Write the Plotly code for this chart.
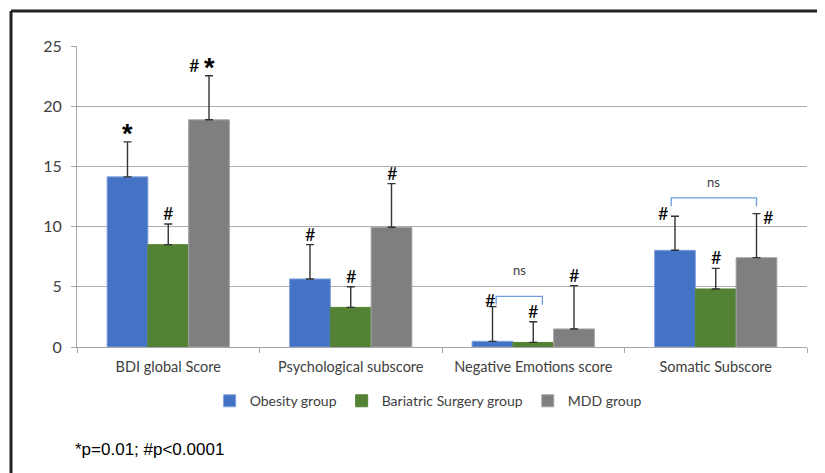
import plotly.graph_objects as go

categories = ["BDI global Score", "Psychological subscore", "Negative Emotions score", "Somatic Subscore"]
series_names = ["Obesity group", "Bariatric Surgery group", "MDD group"]

obesity = [14.13, 5.65, 0.47, 8.03]
obesity_err = [2.91, 2.85, 2.88, 2.83]
bariatric = [8.50, 3.29, 0.38, 4.82]
bariatric_err = [1.72, 1.72, 1.72, 1.71]
mdd = [18.87, 9.94, 1.50, 7.42]
mdd_err = [3.66, 3.63, 3.60, 3.66]

obesity_sig = ["*", "#", "#", "#"]
bariatric_sig = ["#", "#", "#", "#"]
mdd_sig = ["# *", "#", "#", "#"]

ns_pairs = [("Negative Emotions score", 0, 1), ("Somatic Subscore", 0, 2)]
footnote = "*p=0.01; #p<0.0001"

colors = ["#4472C4", "#548235", "#7F7F7F"]
edge = ["#7FA0DC", "#548235", "#A5A5A5"]
values = [obesity, bariatric, mdd]
errors = [obesity_err, bariatric_err, mdd_err]
sigs = [obesity_sig, bariatric_sig, mdd_sig]

BARGAP = 0.33
BW = (1 - BARGAP) / 3
FONT = "Lato"

fig = go.Figure()
for k in range(3):
    fig.add_trace(go.Bar(
        x=categories, y=values[k], name=series_names[k],
        marker=dict(color=colors[k], line=dict(color=edge[k], width=1)),
        error_y=dict(type="data", array=errors[k], arrayminus=[0]*4, symmetric=False,
                     color="#333333", thickness=1.4, width=4),
    ))

annotations = []
HASH_FONT = dict(size=18, color="#000", family=FONT)
STAR_FONT = dict(size=27, color="#000", family="Liberation Sans")
# significance markers (position offsets in px for a few special cases)
special = {(0, 2): (-2, -4), (0, 3): (-12, -8), (2, 3): (11, -14)}
for k in range(3):
    for j in range(4):
        top = values[k][j] + errors[k][j]
        xc = j + (k - 1) * BW
        s = sigs[k][j]
        dx, dy = special.get((k, j), (0, 0))
        if "*" in s:
            annotations.append(dict(x=xc, y=top, xref="x", yref="y", text="<b>*</b>", showarrow=False,
                                    yanchor="bottom", yshift=-9, font=STAR_FONT))
        if "#" in s:
            annotations.append(dict(x=xc, y=top, xref="x", yref="y", text="#", showarrow=False,
                                    yanchor="bottom", xshift=dx - (15 if "*" in s else 0),
                                    yshift=dy - 2, font=HASH_FONT))

shapes = []
bracket_style = {"Negative Emotions score": (0.02, 0.05, 4.21, 0.7, 6.43),
                 "Somatic Subscore": (-0.021, 0.0, 12.39, 0.7, 13.68)}
for cat, a, b in ns_pairs:
    j = categories.index(cat)
    padl, padr, yb, drop, yt = bracket_style[cat]
    x0 = j + (a - 1) * BW + padl
    x1 = j + (b - 1) * BW + padr
    shapes.append(dict(type="path", xref="x", yref="y",
                       path=f"M {x0},{yb-drop} L {x0},{yb} L {x1},{yb} L {x1},{yb-drop}",
                       line=dict(color="#6F9BE0", width=1.3)))
    annotations.append(dict(x=(x0 + x1) / 2, y=yt, xref="x", yref="y", text="ns", showarrow=False,
                            font=dict(size=13, color="#404040", family=FONT)))

annotations.append(dict(x=-0.006, y=-0.34, xref="paper", yref="paper", text=footnote, showarrow=False,
                        xanchor="left", yanchor="middle", font=dict(size=17, color="#000", family="Liberation Sans")))

# outer frame (top and left edges)
shapes.append(dict(type="line", xref="paper", yref="paper", x0=-0.0904, x1=1.05, y0=1.1163, y1=1.1163,
                   line=dict(color="#222", width=3)))
shapes.append(dict(type="line", xref="paper", yref="paper", x0=-0.0904, x1=-0.0904, y0=1.1163, y1=-0.45,
                   line=dict(color="#222", width=3)))

fig.update_layout(
    width=817, height=465,
    margin=dict(l=69, r=18, t=38, b=126),
    paper_bgcolor="white", plot_bgcolor="white",
    barmode="group", bargap=BARGAP, bargroupgap=0,
    font=dict(family=FONT, size=13, color="#404040"),
    showlegend=True,
    legend=dict(orientation="h", x=0.481, y=-0.18, xanchor="center", yanchor="middle",
                font=dict(size=14, color="#404040", family=FONT), itemwidth=30),
    annotations=annotations, shapes=shapes,
)
fig.update_xaxes(type="category", showline=True, linecolor="#A6A6A6", linewidth=1,
                 ticks="outside", tickson="boundaries", ticklen=5, tickcolor="#A6A6A6",
                 ticklabelstandoff=7,
                 tickfont=dict(size=14.5, color="#404040", family=FONT), showgrid=False)
fig.update_yaxes(range=[0, 25], tickvals=[0, 5, 10, 15, 20, 25], showgrid=True, gridcolor="#ADADAD",
                 gridwidth=1, showline=True, linecolor="#A6A6A6", ticks="outside", ticklen=5,
                 ticklabelstandoff=6,
                 tickcolor="#A6A6A6", tickfont=dict(size=16, color="#404040", family=FONT), zeroline=False)

fig.write_html("out.html")
